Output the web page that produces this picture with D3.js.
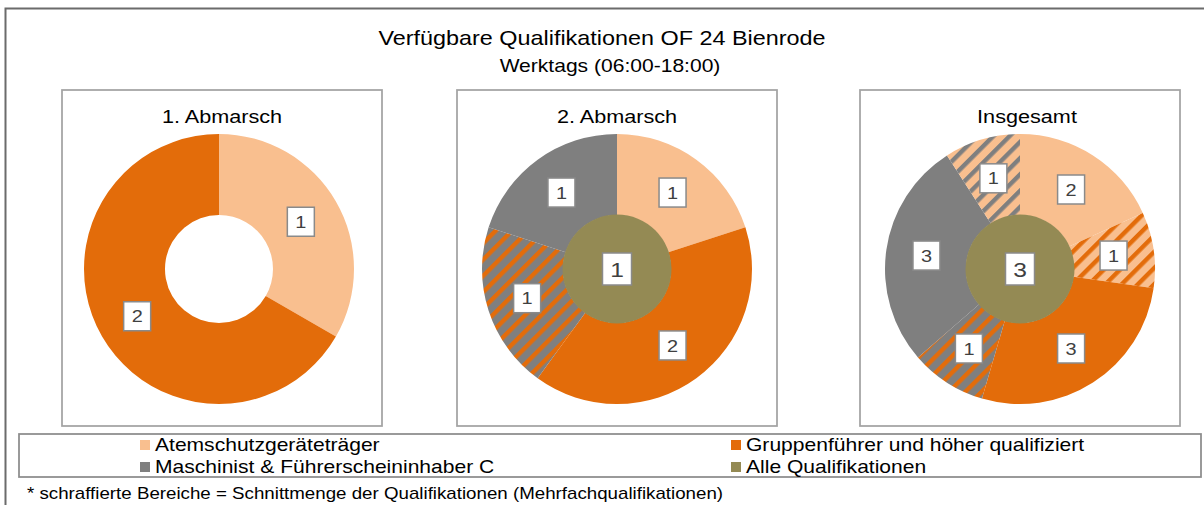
<!DOCTYPE html>
<html>
<head>
<meta charset="utf-8">
<script src="https://cdn.jsdelivr.net/npm/d3@7"></script>
<style>
  body { margin: 0; background: white; }
  svg { display: block; }
</style>
</head>
<body>
<svg></svg>
<script>
// Qualifikationen (Legende) und Farben
const qualifikationen = [
  "Atemschutzgeräteträger",
  "Gruppenführer und höher qualifiziert",
  "Maschinist & Führerscheininhaber C",
  "Alle Qualifikationen"
];
const qualColors = ["#F9BF8F", "#E36C0A", "#7F7F7F", "#948A54"];

const panelTitles = ["1. Abmarsch", "2. Abmarsch", "Insgesamt"];

// Ring-Segmente: q = Qualifikation, also = zweite Qualifikation (schraffiert)
const ring1 = [
  { q: 0, value: 1 },
  { q: 1, value: 2 }
];
const ring2 = [
  { q: 0, value: 1 },
  { q: 1, value: 2 },
  { q: 2, also: 1, value: 1 },
  { q: 2, value: 1 }
];
const ringGesamt = [
  { q: 0, value: 2 },
  { q: 0, also: 1, value: 1 },
  { q: 1, value: 3 },
  { q: 2, also: 1, value: 1 },
  { q: 2, value: 3 },
  { q: 0, also: 2, value: 1 }
];
const rings = [ring1, ring2, ringGesamt];

// "Alle Qualifikationen" in der Mitte (null = kein Wert)
const centerValues = [null, 1, 3];

const title = "Verfügbare Qualifikationen OF 24 Bienrode";
const subtitle = "Werktags (06:00-18:00)";
const footnote = "* schraffierte Bereiche = Schnittmenge der Qualifikationen (Mehrfachqualifikationen)";

// Layout
const width = 1204, height = 505;
const FONT = "'Liberation Sans', Arial, Helvetica, sans-serif";
const SX = 1.17; // Schrift etwas breiter wie im Original
const panelX = [62, 457, 860];
const panelY = 90, panelW = 320, panelH = 336;
const pieCY = 269;
const rOuter = 135, rInner = 54;
const hatchSize = 11.5, hatchStripe = 4.4;

const svg = d3.select("svg")
  .attr("width", width)
  .attr("height", height)
  .style("font-family", FONT);

function addText(parent, x, y, str, size, anchor, fill) {
  return parent.append("text")
    .attr("transform", `translate(${x},${y}) scale(${SX},1)`)
    .attr("text-anchor", anchor)
    .attr("font-size", size)
    .attr("fill", fill)
    .text(str);
}

// Schraffur-Muster
const defs = svg.append("defs");
function patternId(d) { return `hatch-${d.q}-${d.also}`; }
const hatched = [];
rings.forEach(r => r.forEach(d => {
  if (d.also !== undefined && !hatched.some(h => h.q === d.q && h.also === d.also)) hatched.push(d);
}));
hatched.forEach(d => {
  const p = defs.append("pattern")
    .attr("id", patternId(d))
    .attr("patternUnits", "userSpaceOnUse")
    .attr("width", hatchSize)
    .attr("height", hatchSize)
    .attr("patternTransform", "rotate(45)");
  p.append("rect").attr("width", hatchSize).attr("height", hatchSize).attr("fill", qualColors[d.q]);
  p.append("rect").attr("width", hatchStripe).attr("height", hatchSize).attr("fill", qualColors[d.also]);
});

// Außenrahmen
svg.append("rect")
  .attr("x", 5.5).attr("y", 8.5)
  .attr("width", 1210).attr("height", 510)
  .attr("fill", "none")
  .attr("stroke", "#6b6b6b")
  .attr("stroke-width", 2);

// Titel
addText(svg, 602, 45, title, 20, "middle", "#000");
addText(svg, 610, 72, subtitle, 18, "middle", "#000");

const pie = d3.pie().sort(null).value(d => d.value);
const arc = d3.arc().innerRadius(rInner).outerRadius(rOuter);

function labelBox(g, x, y, str, size, w, h) {
  g.append("rect")
    .attr("x", x - w / 2).attr("y", y - h / 2)
    .attr("width", w).attr("height", h)
    .attr("fill", "white")
    .attr("stroke", "#8a8a8a")
    .attr("stroke-width", 1.5);
  addText(g, x, y + size * 0.36, str, size, "middle", "#404040");
}

rings.forEach((ring, i) => {
  const px = panelX[i];
  const cx = px + panelW / 2 - (i === 0 ? 3 : 0);

  svg.append("rect")
    .attr("x", px).attr("y", panelY)
    .attr("width", panelW).attr("height", panelH)
    .attr("fill", "white")
    .attr("stroke", "#a3a3a3")
    .attr("stroke-width", 1.75);

  addText(svg, px + panelW / 2 + (i === 2 ? 7 : 0), 122.5, panelTitles[i], 18.5, "middle", "#000");

  const g = svg.append("g").attr("transform", `translate(${cx},${pieCY})`);
  const arcs = pie(ring);

  g.selectAll("path.seg")
    .data(arcs)
    .enter().append("path")
    .attr("class", "seg")
    .attr("d", arc)
    .attr("fill", d => d.data.also !== undefined ? `url(#${patternId(d.data)})` : qualColors[d.data.q]);

  if (centerValues[i] !== null) {
    g.append("circle")
      .attr("r", rInner + 0.5)
      .attr("fill", qualColors[3]);
  }

  arcs.forEach(d => {
    const [lx, ly] = arc.centroid(d);
    labelBox(g, lx, ly, d.data.value, 17, 27, 29);
  });

  if (centerValues[i] !== null) {
    labelBox(g, 0, 0, centerValues[i], 21, 29, 32);
  }
});

// Legende
svg.append("rect")
  .attr("x", 19).attr("y", 434)
  .attr("width", 1182).attr("height", 43)
  .attr("fill", "white")
  .attr("stroke", "#8c8c8c")
  .attr("stroke-width", 1.75);

const legendCol = d3.scaleOrdinal().domain([0, 1]).range([140, 731]);
const legendRow = d3.scaleOrdinal().domain([0, 1]).range([440, 462]);

qualifikationen.forEach((name, i) => {
  const col = i % 2, row = Math.floor(i / 2);
  const x = legendCol(col), y = legendRow(row);
  svg.append("rect")
    .attr("x", x).attr("y", y)
    .attr("width", 10).attr("height", 10)
    .attr("fill", qualColors[i]);
  addText(svg, x + 15, y + 10.5, name, 18, "start", "#000");
});

// Fußnote
addText(svg, 27, 499, footnote, 16, "start", "#000");
</script>
</body>
</html>
